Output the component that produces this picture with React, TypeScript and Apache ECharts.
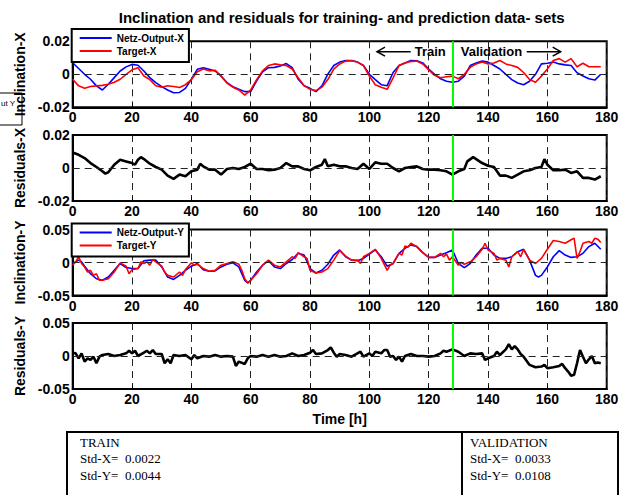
import React, { useEffect, useRef } from "react";
import * as echarts from "echarts";

// ---------- data ----------
const TITLE = "Inclination and residuals for training- and prediction data- sets";
const splitHour = 128;
const xTicks = { min: 0, max: 180, interval: 20 };

// Inclination-X sampled every 2 h (0..178)
const inclXHours = Array.from({ length: 90 }, (_, i) => i * 2);
const inclXOutput = [
  0.007, 0.0035, 0.0, -0.003, -0.007, -0.0095, -0.006, -0.002, 0.002, 0.0045,
  0.006, 0.0055, 0.002, -0.002, -0.005, -0.0075, -0.0095, -0.0112, -0.011, -0.0085,
  -0.003, 0.003, 0.004, 0.003, 0.002, -0.001, -0.005, -0.0075, -0.009, -0.0105,
  -0.0105, -0.004, 0.0015, 0.004, 0.0042, 0.005, 0.0065, 0.004, -0.003, -0.0069,
  -0.0085, -0.0105, -0.007, 0.0001, 0.0053, 0.0074, 0.0084, 0.0084, 0.0074, 0.0053,
  0.0, -0.0032, -0.0063, -0.0069, 0.0011, 0.0053, 0.0069, 0.0084, 0.0082, 0.0069,
  0.0032, 0.0, -0.0027, -0.0042, -0.0048, -0.0042, -0.0011, 0.0053, 0.0069, 0.008,
  0.0074, 0.0053, 0.0032, 0.0, -0.0032, -0.0053, -0.0063, -0.0042, 0.0, 0.0063,
  0.0067, 0.0074, 0.0063, 0.0057, 0.0053, 0.001, -0.001, -0.0027, -0.0035, 0.0,
];
const inclXTarget = [
  -0.003, -0.007, -0.0084, -0.0074, -0.007, -0.0067, -0.006, -0.0048, -0.003, 0.0,
  0.0027, 0.004, -0.001, -0.0032, -0.0069, -0.0078, -0.0069, -0.0074, -0.008, -0.0063,
  -0.0032, 0.0015, 0.0032, 0.0021, 0.0025, -0.0011, -0.0053, -0.0078, -0.0095, -0.0126,
  -0.0095, -0.0032, 0.0021, 0.0053, 0.0063, 0.0057, 0.0053, 0.0032, -0.0021, -0.0069,
  -0.0091, -0.0099, -0.0078, -0.0032, 0.0032, 0.0063, 0.008, 0.0082, 0.0074, 0.0053,
  -0.0011, -0.0063, -0.0078, -0.0091, -0.0021, 0.0053, 0.0069, 0.0078, 0.008, 0.0063,
  0.0027, -0.0006, -0.0021, -0.0015, -0.0011, -0.0027, 0.0, 0.0042, 0.0063, 0.0074,
  0.0063, 0.0069, 0.0084, 0.0063, 0.0053, 0.0042, 0.0011, -0.0032, -0.0048, -0.0011,
  0.0032, 0.0084, 0.0095, 0.0074, 0.0095, 0.0046, 0.0067, 0.0046, 0.0046, 0.0046,
];

const residualsX = [
  [0, 0.0094], [2, 0.008], [4, 0.006], [6, 0.003], [8, 0.0006], [10, -0.002], [11, -0.0034],
  [12, -0.0026], [14, 0.002], [16, 0.005], [18, 0.004], [20, 0.003], [21, 0.002], [22, 0.005],
  [23, 0.0066], [24, 0.0054], [26, 0.0026], [28, 0.0006], [30, -0.001], [32, -0.0046],
  [34, -0.0066], [36, -0.004], [38, -0.005], [40, -0.002], [42, -0.001], [43, 0.0026],
  [44, 0.001], [46, -0.001], [48, -0.001], [50, -0.004], [52, -0.0006], [54, 0], [56, -0.0006],
  [58, 0.0006], [60, 0.0026], [62, -0.0006], [64, -0.0006], [66, -0.0014], [68, -0.001],
  [70, 0], [72, 0.003], [74, 0.001], [76, 0.001], [78, -0.0006], [80, -0.0014], [82, 0.0006],
  [84, 0.002], [85, 0.0054], [86, 0.001], [88, 0.002], [90, 0.001], [92, 0.001], [94, 0],
  [96, -0.0006], [98, 0.0026], [100, -0.0006], [102, 0.0034], [104, 0.0026], [106, 0.0026],
  [108, 0], [110, -0.002], [112, 0], [114, 0.0006], [116, 0.001], [118, -0.0006], [120, -0.001],
  [122, -0.001], [124, -0.0014], [126, -0.002], [128, -0.004], [130, -0.002], [132, -0.0006],
  [133, 0.004], [135, 0.0066], [136, 0.0054], [138, 0.003], [140, 0.0014], [142, 0.0006],
  [144, -0.0046], [146, -0.0046], [148, -0.006], [150, -0.004], [152, -0.002], [154, -0.0014],
  [156, 0], [158, 0.0006], [159, 0.0054], [160, 0.002], [162, -0.0014], [164, -0.0014],
  [166, -0.001], [168, -0.003], [170, -0.002], [172, -0.006], [174, -0.006], [176, -0.007],
  [178, -0.005],
];

const inclYOutput = [
  [0, -0.0015], [2, 0.0036], [3, 0.001], [4, -0.0056], [6, -0.017], [8, -0.0246], [10, -0.027],
  [12, -0.022], [14, -0.0118], [16, -0.0015], [18, -0.0077], [20, -0.0092], [22, -0.0092],
  [24, 0.0026], [26, 0.0036], [28, 0.0036], [30, -0.0067], [32, -0.022], [34, -0.0257],
  [36, -0.0195], [38, -0.0118], [40, -0.0056], [42, -0.0015], [44, -0.0108], [46, -0.0133],
  [48, -0.0128], [50, -0.0067], [52, -0.0026], [54, -0.0005], [56, -0.0067], [58, -0.027],
  [59, -0.031], [60, -0.027], [62, -0.0144], [64, -0.0041], [66, 0.0026], [68, -0.0067],
  [70, -0.0092], [72, -0.0015], [74, 0.0046], [76, 0.0139], [78, 0.0113], [80, -0.0092],
  [82, -0.0159], [84, -0.0118], [86, -0.0026], [88, 0.0113], [90, 0.019], [92, 0.0087],
  [94, 0.0036], [96, 0.0026], [98, 0.0062], [100, 0.0128], [102, 0.019], [104, 0.0087],
  [106, -0.0056], [108, -0.0015], [110, 0.0139], [112, 0.0215], [114, 0.0267], [116, 0.0241],
  [118, 0.0149], [120, 0.0077], [122, 0.0077], [124, 0.0113], [126, 0.0149], [128, 0.019],
  [130, -0.0015], [132, -0.0077], [134, -0.0015], [136, 0.0113], [138, 0.0215], [140, 0.0215],
  [142, 0.0113], [144, 0.0062], [146, 0.0062], [148, 0.0087], [150, 0.0164], [152, 0.02],
  [154, 0.0036], [156, -0.0195], [157, -0.022], [158, -0.0195], [160, -0.0067], [162, 0.0087],
  [164, 0.018], [166, 0.0113], [168, 0.0077], [170, 0.0087], [172, 0.0139], [174, 0.0241],
  [176, 0.0292], [178, 0.02],
];

const inclYTarget = [
  [0, -0.0041], [1, 0.001], [2, 0.0087], [3, -0.0015], [4, -0.0067], [5, -0.0144], [6, -0.0118],
  [7, -0.0195], [8, -0.017], [9, -0.027], [10, -0.027], [12, -0.0246], [14, -0.0144],
  [16, -0.0005], [18, -0.0056], [19, -0.017], [20, -0.0108], [22, -0.0092], [23, 0.001],
  [24, -0.0015], [25, 0.001], [26, -0.0041], [27, 0.0046], [28, 0.001], [30, -0.0056],
  [31, -0.0144], [32, -0.0195], [34, -0.022], [36, -0.0144], [37, -0.0195], [38, -0.0108],
  [40, -0.0005], [41, -0.0041], [42, -0.0026], [44, -0.0092], [46, -0.0133], [48, -0.0118],
  [50, -0.0041], [52, -0.0015], [54, 0.001], [56, -0.0026], [57, -0.0118], [58, -0.0246],
  [59, -0.031], [60, -0.027], [62, -0.017], [64, -0.0041], [66, 0.0036], [68, -0.0041],
  [70, -0.0067], [72, 0.001], [74, 0.0087], [75, 0.0062], [76, 0.0149], [78, 0.0087],
  [79, 0.0062], [80, -0.0118], [82, -0.0159], [84, -0.0144], [86, -0.0092], [88, 0.0036],
  [90, 0.018], [92, 0.0097], [94, 0.0036], [96, 0.0036], [97, -0.0015], [98, 0.0087],
  [100, 0.0139], [102, 0.02], [104, 0.0062], [106, -0.0118], [107, -0.0041], [108, -0.0015],
  [110, 0.0139], [111, 0.0113], [112, 0.0251], [113, 0.0231], [114, 0.0292], [116, 0.0241],
  [118, 0.0149], [120, 0.0077], [122, 0.0077], [124, 0.0139], [125, 0.0087], [126, 0.0128],
  [127, 0.0036], [128, 0.0087], [130, -0.0041], [131, 0], [132, -0.0026], [134, 0.001],
  [136, 0.0087], [138, 0.02], [139, 0.0292], [140, 0.019], [142, 0.0139], [143, 0.0036],
  [144, 0.0062], [146, 0.0036], [147, -0.0067], [148, 0.0087], [150, 0.0164], [151, 0.0087],
  [152, 0.02], [154, 0.0036], [156, -0.0015], [158, 0.0062], [160, 0.02], [162, 0.0333],
  [164, 0.0318], [166, 0.0292], [168, 0.0344], [169, 0.0369], [170, 0.0062], [171, 0.0164],
  [172, 0.0292], [174, 0.0318], [175, 0.0292], [176, 0.0369], [177, 0.0354], [178, 0.0303],
];

const residualsY = [
  [0, 0.005], [1, 0.004], [2, -0.0035], [3, 0.004], [4, -0.0085], [5, -0.0035], [6, -0.006],
  [7, -0.001], [8, -0.011], [9, -0.001], [10, 0.0015], [12, 0.003], [14, 0], [16, 0.0015],
  [18, 0.004], [19, 0.008], [20, 0.004], [21, 0.008], [22, 0], [24, 0.005], [25, 0.008],
  [26, 0.004], [27, 0.009], [28, 0.003], [30, 0.003], [31, -0.011], [32, -0.005], [33, -0.011],
  [34, 0.0015], [36, 0], [38, 0.0015], [40, -0.005], [41, 0.0015], [42, -0.0035], [44, 0],
  [46, -0.001], [48, 0.0015], [50, -0.001], [52, 0], [54, -0.001], [55, -0.015], [56, -0.0085],
  [58, -0.012], [59, -0.0035], [60, 0], [62, -0.001], [64, 0.0015], [66, -0.001], [68, 0.0015],
  [70, -0.001], [72, 0], [74, 0.004], [76, 0], [78, 0.0015], [80, 0.005], [81, 0.009],
  [82, 0.003], [84, 0.004], [86, 0.009], [87, 0.013], [88, 0.005], [89, -0.001], [90, 0.003],
  [92, 0.0015], [94, -0.001], [96, 0.004], [97, 0.0065], [98, -0.001], [100, 0.004], [101, 0],
  [102, 0.0065], [104, 0.004], [105, 0.009], [106, 0.009], [107, -0.001], [108, 0],
  [109, -0.006], [110, -0.001], [111, -0.0085], [112, 0], [114, 0.003], [116, 0], [118, 0],
  [120, -0.001], [122, 0], [124, 0.004], [125, 0.008], [126, 0.0065], [128, 0.01], [130, 0.0065],
  [132, 0], [134, 0.004], [136, 0.003], [138, 0.004], [139, -0.006], [140, -0.0035], [142, 0],
  [143, 0.0065], [144, 0.0015], [146, 0.01], [147, 0.018], [148, 0.01], [149, 0.015],
  [150, 0.01], [151, 0.003], [152, -0.001], [154, -0.0135], [156, -0.017], [158, -0.016],
  [159, -0.0135], [160, -0.0185], [162, -0.017], [164, -0.015], [165, -0.012], [166, -0.0185],
  [167, -0.0235], [168, -0.03], [169, -0.0285], [170, -0.011], [171, 0.009], [172, -0.001],
  [173, -0.011], [174, -0.005], [175, 0], [176, -0.011], [177, -0.01], [178, -0.011],
];

const stdLabels = ["Std-X=", "Std-Y="];
const trainStd = [0.0022, 0.0044];
const validStd = [0.0033, 0.0108];

// ---------- layout / styles ----------
const FONT = '"Liberation Sans", Arial, Helvetica, sans-serif';
const SERIF = '"Liberation Serif", "Times New Roman", serif';
const GRID_LEFT = 72.7;
const GRID_WIDTH = 534;
const GRID_TOPS = [41.3, 135, 229.5, 323];
const GRID_H = 66;
const BLUE = "#0000ff";
const RED = "#ff0000";
const GREEN = "#00ff00";

const panels = [
  { name: "Inclination-X", min: -0.02, max: 0.02, interval: 0.02 },
  { name: "Residuals-X", min: -0.02, max: 0.02, interval: 0.02 },
  { name: "Inclination-Y", min: -0.05, max: 0.05, interval: 0.05 },
  { name: "Residuals-Y", min: -0.05, max: 0.05, interval: 0.05 },
];

const fmtY = (v: number) => (Math.abs(v) < 1e-9 ? "0" : v.toFixed(2));

function buildOption() {
  const grid = GRID_TOPS.map((top) => ({
    left: GRID_LEFT,
    top,
    width: GRID_WIDTH,
    height: GRID_H,
    show: true,
    borderColor: "#000",
    borderWidth: 2,
    backgroundColor: "#fff",
    containLabel: false,
  }));

  const xAxis = GRID_TOPS.map((_, i) => ({
    type: "value",
    gridIndex: i,
    min: xTicks.min,
    max: xTicks.max,
    interval: xTicks.interval,
    name: i === 3 ? "Time [h]" : "",
    nameLocation: "middle",
    nameGap: 23,
    nameTextStyle: { fontFamily: FONT, fontWeight: "bold", fontSize: 14, color: "#000" },
    axisLine: { show: true, onZero: false, lineStyle: { color: "#000", width: 2 } },
    axisTick: { show: true, inside: true, length: 4, lineStyle: { color: "#000", width: 1 } },
    axisLabel: { fontFamily: FONT, fontWeight: "bold", fontSize: 14, color: "#000", margin: 3 },
    splitLine: { show: true, lineStyle: { color: "#222", width: 1, type: [7, 5] } },
  }));

  const yAxis = panels.map((p, i) => ({
    type: "value",
    gridIndex: i,
    min: p.min,
    max: p.max,
    interval: p.interval,
    name: p.name,
    nameLocation: "middle",
    nameGap: 46,
    nameRotate: 90,
    nameTextStyle: { fontFamily: FONT, fontWeight: "bold", fontSize: 14, color: "#000" },
    axisLine: { show: true, onZero: false, lineStyle: { color: "#000", width: 2 } },
    axisTick: { show: true, inside: true, length: 4, lineStyle: { color: "#000", width: 1 } },
    axisLabel: {
      fontFamily: FONT,
      fontWeight: "bold",
      fontSize: 14,
      color: "#000",
      margin: 3,
      formatter: fmtY,
    },
    splitLine: { show: false },
  }));

  const zeroLine = {
    silent: true,
    symbol: ["none", "none"],
    label: { show: false },
    emphasis: { disabled: true },
    data: [{ yAxis: 0, lineStyle: { color: "#222", width: 1, type: [7, 5] } }],
  };
  const greenLine = {
    silent: true,
    symbol: ["none", "none"],
    label: { show: false },
    emphasis: { disabled: true },
    data: [{ xAxis: splitHour, lineStyle: { color: GREEN, width: 2, type: "solid" } }],
  };

  const lineBase = (idx: number, color: string, width: number) => ({
    type: "line",
    xAxisIndex: idx,
    yAxisIndex: idx,
    symbol: "none",
    showSymbol: false,
    silent: true,
    lineStyle: { color, width },
    itemStyle: { color },
  });

  const zip = (hs: number[], vs: number[]) => hs.map((h, i) => [h, vs[i]]);

  const series = [
    { ...lineBase(0, BLUE, 1.6), name: "Netz-Output-X", data: zip(inclXHours, inclXOutput), markLine: zeroLine },
    { ...lineBase(0, RED, 1.6), name: "Target-X", data: zip(inclXHours, inclXTarget), markLine: greenLine },
    { ...lineBase(1, "#000", 2.6), name: "Residuals-X", data: residualsX, markLine: { ...zeroLine, data: [...zeroLine.data, ...greenLine.data] } },
    { ...lineBase(2, BLUE, 1.6), name: "Netz-Output-Y", data: inclYOutput, markLine: zeroLine },
    { ...lineBase(2, RED, 1.6), name: "Target-Y", data: inclYTarget, markLine: greenLine },
    { ...lineBase(3, "#000", 2.6), name: "Residuals-Y", data: residualsY, markLine: { ...zeroLine, data: [...zeroLine.data, ...greenLine.data] } },
  ];

  const legendBase = {
    left: GRID_LEFT - 1,
    orient: "vertical",
    backgroundColor: "#fff",
    borderColor: "#000",
    borderWidth: 2,
    borderRadius: 0,
    padding: [3, 5, 5, 8],
    itemGap: 1,
    itemWidth: 32,
    itemHeight: 2,
    icon: "rect",
    selectedMode: false,
    z: 10,
    textStyle: { fontFamily: FONT, fontWeight: "bold", fontSize: 10, color: "#000", lineHeight: 12 },
  };
  const legend = [
    { ...legendBase, top: 29, data: ["Netz-Output-X", "Target-X"] },
    { ...legendBase, top: 223.5, data: ["Netz-Output-Y", "Target-Y"] },
  ];

  const arrowY = 51.7;
  const annoFont = { fontFamily: FONT, fontWeight: "bold", fontSize: 13, fill: "#000" };
  const tableTop = 432;
  const rowY = [458.5, 475];
  const tableText = (text: string, x: number, y: number) => ({
    type: "text",
    x,
    y,
    style: { text, fontFamily: SERIF, fontSize: 13, fill: "#000", textVerticalAlign: "middle" },
  });
  const graphic = [
    {
      type: "text",
      x: GRID_LEFT + GRID_WIDTH / 2 + 2,
      y: 17,
      style: { text: TITLE, ...annoFont, fontSize: 15, textAlign: "center", textVerticalAlign: "middle" },
    },
    // Train / Validation annotation
    { type: "line", shape: { x1: 377, y1: arrowY, x2: 410.7, y2: arrowY }, style: { stroke: "#000", lineWidth: 1.5 }, z: 20 },
    { type: "polyline", shape: { points: [[385, arrowY - 4.5], [377, arrowY], [385, arrowY + 4.5]] }, style: { stroke: "#000", lineWidth: 1.5, fill: "none" }, z: 20 },
    { type: "text", x: 414.7, y: arrowY, z: 20, style: { text: "Train", ...annoFont, textVerticalAlign: "middle" } },
    { type: "text", x: 460.7, y: arrowY, z: 20, style: { text: "Validation", ...annoFont, textVerticalAlign: "middle" } },
    { type: "line", shape: { x1: 526.7, y1: arrowY, x2: 560.7, y2: arrowY }, style: { stroke: "#000", lineWidth: 1.5 }, z: 20 },
    { type: "polyline", shape: { points: [[552.7, arrowY - 4.5], [560.7, arrowY], [552.7, arrowY + 4.5]] }, style: { stroke: "#000", lineWidth: 1.5, fill: "none" }, z: 20 },
    // stray clipped box at the left
    { type: "rect", shape: { x: -2, y: 93, width: 24, height: 32 }, style: { fill: "none", stroke: "#000", lineWidth: 1 }, z: 0 },
    { type: "text", x: 1, y: 103, style: { text: "ut Y", fontFamily: FONT, fontSize: 8, fill: "#000", textVerticalAlign: "middle" } },
    // statistics table
    { type: "rect", shape: { x: 67, y: tableTop, width: 551, height: 90 }, style: { fill: "#fff", stroke: "#000", lineWidth: 2 } },
    { type: "line", shape: { x1: 462, y1: tableTop, x2: 462, y2: 500 }, style: { stroke: "#000", lineWidth: 2 } },
    tableText("TRAIN", 80, 442),
    tableText("VALIDATION", 470, 442),
    ...stdLabels.flatMap((lab, i) => [
      tableText(lab, 80, rowY[i]),
      tableText(trainStd[i].toFixed(4), 125, rowY[i]),
      tableText(lab, 470, rowY[i]),
      tableText(validStd[i].toFixed(4), 515, rowY[i]),
    ]),
  ];

  return {
    animation: false,
    backgroundColor: "#fff",
    textStyle: { fontFamily: FONT },
    grid,
    xAxis,
    yAxis,
    legend,
    series,
    graphic,
  };
}

export default function App() {
  const ref = useRef<HTMLDivElement | null>(null);
  useEffect(() => {
    if (!ref.current) return;
    const chart = echarts.init(ref.current, null, { renderer: "svg" });
    chart.setOption(buildOption() as any);
    return () => chart.dispose();
  }, []);
  return (
    <div
      ref={ref}
      style={{ position: "absolute", left: 0, top: 0, width: 629, height: 495, background: "#fff" }}
    />
  );
}
